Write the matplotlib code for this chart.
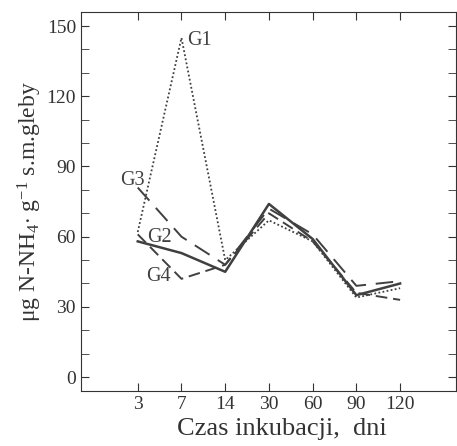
import matplotlib
matplotlib.use("Agg")
import matplotlib.pyplot as plt
from matplotlib.ticker import MultipleLocator

plt.rcParams['font.family'] = ['Liberation Serif', 'DejaVu Serif']
plt.rcParams['mathtext.fontset'] = 'custom'
plt.rcParams['mathtext.rm'] = 'Liberation Serif'
plt.rcParams['mathtext.it'] = 'Liberation Serif:italic'

# dni inkubacji
days = ['3', '7', '14', '30', '60', '90', '120']

G1 = [62, 145, 50, 67, 58, 34, 38]
G2 = [58, 53, 45, 74, 59, 35, 40]
G3 = [81, 60, 48, 72, 61, 39, 41]
G4 = [61, 42, 48, 70, 58, 36, 33]

x = list(range(len(days)))
col = '#404040'

fig = plt.figure(figsize=(4.57, 4.46), dpi=100)
ax = fig.add_axes([0.177, 0.123, 0.821, 0.850])

ax.plot(x, G1, color=col, lw=1.3, linestyle=(0, (1, 1.3)))
ax.plot(x, G2, color=col, lw=1.8, linestyle='-')
ax.plot(x, G3, color=col, lw=1.4, linestyle=(0, (9, 5)))
ax.plot(x, G4, color=col, lw=1.4, linestyle=(0, (6, 3)))

ax.text(1.14, 144, 'G1', fontsize=14.5, va='center', color=col)
ax.text(-0.40, 84, 'G3', fontsize=14.5, va='center', color=col)
ax.text(0.22, 59.5, 'G2', fontsize=14.5, va='center', color=col)
ax.text(0.19, 43, 'G4', fontsize=14.5, va='center', color=col)

ax.set_xlim(-1.3, 7.28)
ax.set_ylim(-6, 156)
ax.set_xticks(x)
ax.set_xticklabels(days)
ax.set_yticks([0, 30, 60, 90, 120, 150])
ax.yaxis.set_minor_locator(MultipleLocator(10))
ax.tick_params(which='both', direction='in', top=True, right=True,
               labelsize=14, colors='#333333')
ax.tick_params(which='major', length=6)
ax.tick_params(which='minor', length=6)
for s in ax.spines.values():
    s.set_color('#333333')

ax.set_xlabel('Czas inkubacji,  dni', fontsize=19, color='#333333')
ax.xaxis.set_label_coords(0.536, -0.072)
ax.set_ylabel('μg N-NH$_4$$\\cdot$ g$^{-1}$ s.m.gleby', fontsize=17,
              color='#333333', labelpad=2)

fig.savefig('out.png', dpi=100)
